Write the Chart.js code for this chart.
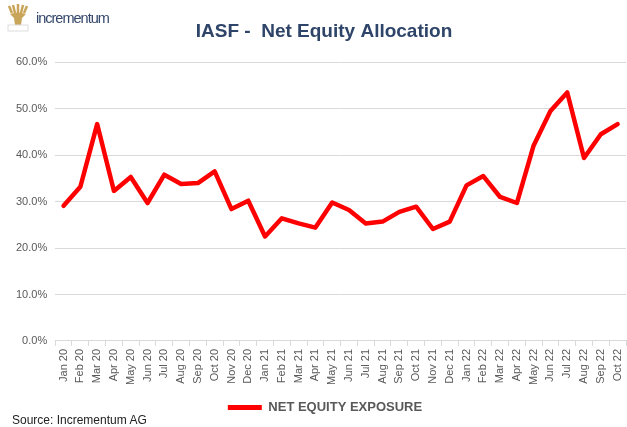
<!DOCTYPE html>
<html>
<head>
<meta charset="utf-8">
<script src="https://cdn.jsdelivr.net/npm/chart.js@4.4.0/dist/chart.umd.min.js"></script>
<style>
    body { margin: 0; background: #fff; font-family: "Liberation Sans", Arial, sans-serif; }
    #wrap { position: relative; width: 627px; height: 427px; }
    #logo { position: absolute; left: 7px; top: 4px; display: flex; align-items: center; }
    #logo span { color: #34476b; font-size: 14.5px; margin-left: 7px; letter-spacing: -1px; }
    #source { position: absolute; left: 12px; top: 413px; font-size: 12px; color: #222; }
</style>
</head>
<body>
<div id="wrap">
    <canvas id="grafik" width="627" height="427"></canvas>
    <div id="logo">
        <svg width="22" height="28" viewBox="0 0 22 28">
            <path d="M2 2 L5 9 M6 1 L8 9 M11 0 L11 9 M16 1 L14 9 M20 2 L17 9" stroke="#c9a55a" stroke-width="2.5"/>
            <path d="M3 10 Q11 7 19 10 L15 14 L14 21 L8 21 L7 14 Z" fill="#c9a55a"/>
            <rect x="1" y="21" width="20" height="6" fill="none" stroke="#ddd" stroke-width="1"/>
        </svg>
        <span>incrementum</span>
    </div>
    <div id="source">Source: Incrementum AG</div>
</div>
<script>
const aylar = ['Jan 20', 'Feb 20', 'Mar 20', 'Apr 20', 'May 20', 'Jun 20', 'Jul 20', 'Aug 20', 'Sep 20', 'Oct 20', 'Nov 20', 'Dec 20',
    'Jan 21', 'Feb 21', 'Mar 21', 'Apr 21', 'May 21', 'Jun 21', 'Jul 21', 'Aug 21', 'Sep 21', 'Oct 21', 'Nov 21', 'Dec 21',
    'Jan 22', 'Feb 22', 'Mar 22', 'Apr 22', 'May 22', 'Jun 22', 'Jul 22', 'Aug 22', 'Sep 22', 'Oct 22'];
const netEquity = [29.1, 33.2, 46.7, 32.3, 35.3, 29.7, 35.8, 33.8, 34.0, 36.5, 28.4, 30.2,
    22.5, 26.4, 25.3, 24.4, 29.8, 28.2, 25.3, 25.7, 27.8, 28.9, 24.1, 25.7,
    33.5, 35.5, 31.0, 29.7, 42.1, 49.5, 53.5, 39.4, 44.5, 46.7];
const yTicks = [0, 10, 20, 30, 40, 50, 60];

// başlık ve lejant, orijinaldeki gibi biraz sağa
const ortala = {
    id: 'ortala',
    afterLayout(chart) {
        chart.titleBlock.left += 14;
        chart.legend.left += 16;
    }
};

const config = {
    type: 'line',
    data: {
        labels: aylar,
        datasets: [{
            label: 'NET EQUITY EXPOSURE',
            data: netEquity,
            borderColor: '#ff0000',
            backgroundColor: '#ff0000',
            borderWidth: 4.5,
            pointRadius: 0,
            borderJoinStyle: 'round',
            borderCapStyle: 'round',
            tension: 0
        }]
    },
    options: {
        responsive: false,
        animation: false,
        layout: { padding: { left: 8, right: 1, top: 16, bottom: 3 } },
        plugins: {
            title: {
                display: true,
                text: 'IASF -  Net Equity Allocation',
                color: '#2e4469',
                font: { family: 'Liberation Sans', size: 19, weight: 'bold' },
                padding: { top: 4, bottom: 19.5 }
            },
            legend: {
                position: 'bottom',
                labels: {
                    boxWidth: 34,
                    boxHeight: 5,
                    color: '#595959',
                    font: { family: 'Liberation Sans', size: 13, weight: 'bold' },
                    padding: 8,
                    generateLabels: function (chart) {
                        const items = Chart.defaults.plugins.legend.labels.generateLabels(chart);
                        items.forEach(it => { it.lineWidth = 0; });
                        return items;
                    }
                }
            },
            tooltip: { enabled: false }
        },
        scales: {
            x: {
                offset: true,
                grid: { drawOnChartArea: false, drawTicks: true, tickLength: 5, color: '#d9d9d9', offset: true },
                border: { color: '#d9d9d9' },
                ticks: {
                    minRotation: 90, maxRotation: 90, autoSkip: false,
                    color: '#595959',
                    font: { family: 'Liberation Sans', size: 11 },
                    padding: 3
                },
                afterFit: function (axis) {
                    axis.height += 5;
                    axis.paddingRight = 0;
                }
            },
            y: {
                min: 0, max: 60,
                afterBuildTicks: function (axis) { axis.ticks = yTicks.map(v => ({ value: v })); },
                grid: { color: '#d9d9d9', drawTicks: false },
                border: { display: false },
                ticks: {
                    color: '#595959',
                    font: { family: 'Liberation Sans', size: 11 },
                    padding: 8,
                    callback: v => v.toFixed(1) + '%'
                }
            }
        }
    },
    plugins: [ortala]
};

const context = document.getElementById('grafik').getContext('2d');
const lineChart = new Chart(context, config);
</script>
</body>
</html>
